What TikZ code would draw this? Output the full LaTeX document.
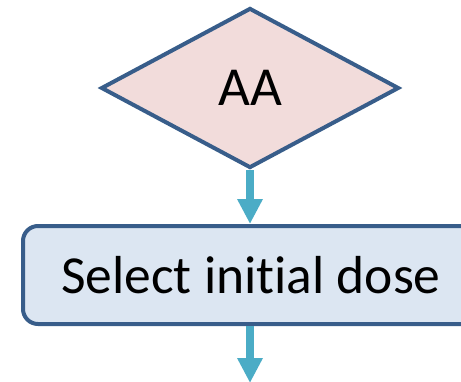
\documentclass[tikz,border=0pt]{standalone}
\usepackage{fontspec}
\setmainfont{Carlito}[Ligatures=NoCommon]
\usetikzlibrary{shapes.geometric,arrows.meta}

\definecolor{edgeblue}{HTML}{385D8A}
\definecolor{decfill}{HTML}{F2DCDB}
\definecolor{boxfill}{HTML}{DCE6F2}
\definecolor{flowteal}{HTML}{4BACC6}

\tikzset{
  decision/.style={diamond, draw=edgeblue, fill=decfill, line width=4pt,
    minimum width=298pt, minimum height=160pt, inner sep=0pt, aspect=1.86},
  process/.style={rectangle, rounded corners=15pt, draw=edgeblue, fill=boxfill,
    line width=4pt, minimum width=456pt, minimum height=98pt, inner sep=0pt},
  flow/.style={draw=flowteal, line width=8pt, -{Triangle[width=24pt,length=25pt]}}
}

\begin{document}
\begin{tikzpicture}[x=1pt,y=1pt]
            \clip (0,0) rectangle (461,-381);
            \node[decision] (aa) at (250,-88) {\fontsize{55}{60}\selectfont AA};
            \node[process] (dose) at (251,-275) {\fontsize{53.5}{60}\selectfont Select initial dose};
            \coordinate (next) at (250,-383);

            \draw[flow] (aa) -- (aa |- dose.north);
            \draw[flow] (dose.south -| aa) -- (next);
        \end{tikzpicture}
\end{document}
